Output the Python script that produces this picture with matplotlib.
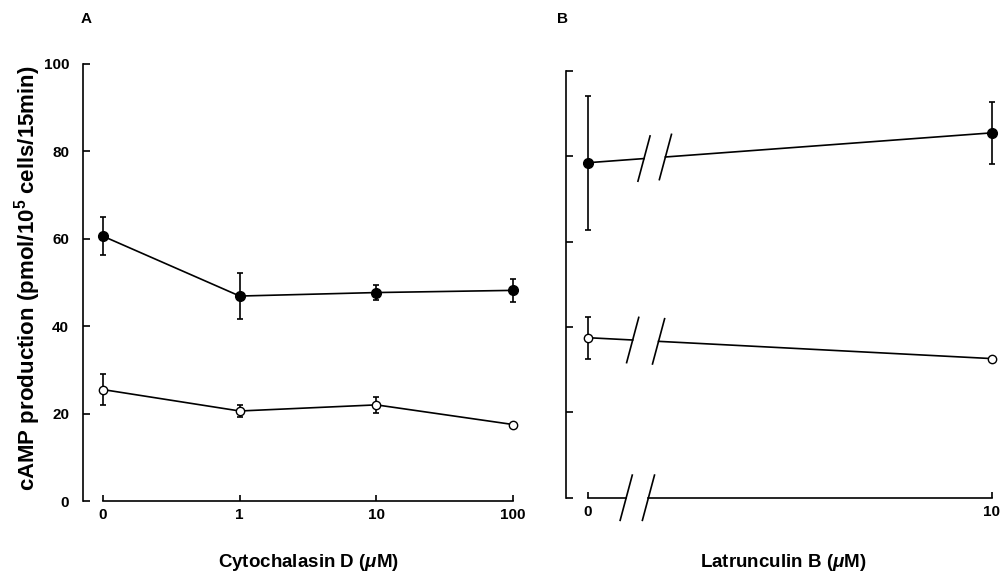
import matplotlib
matplotlib.use("Agg")
import matplotlib.pyplot as plt
import numpy as np

plt.rcParams["font.family"] = ["Liberation Sans", "DejaVu Sans"]
plt.rcParams["font.weight"] = "bold"
plt.rcParams["axes.labelweight"] = "bold"
plt.rcParams["mathtext.fontset"] = "custom"
plt.rcParams["mathtext.rm"] = "Liberation Sans:bold"
plt.rcParams["mathtext.it"] = "Liberation Sans:italic:bold"
plt.rcParams["mathtext.bf"] = "Liberation Sans:bold"

# panel A: cytochalasin D
cyto_labels = ["0", "1", "10", "100"]
cyto_ctrl = [60.6, 46.9, 47.7, 48.2]
cyto_ctrl_err = [4.3, 5.3, 1.7, 2.7]
cyto_basal = [25.5, 20.6, 22.0, 17.5]
cyto_basal_err = [3.6, 1.4, 1.9, 0.0]

# panel B: latrunculin B
latr_x = [0, 10]
latr_labels = ["0", "10"]
latr_ctrl = [78.5, 85.5]
latr_ctrl_err = [15.7, 7.3]
latr_basal = [37.5, 32.6]
latr_basal_err = [4.9, 0.0]

fig = plt.figure(figsize=(10, 5.77), dpi=100)
axA = fig.add_axes([0.083, 0.1241, 0.437, 0.7726])
axB = fig.add_axes([0.566, 0.130, 0.430, 0.7544])

lw = 1.2


def style(ax):
    for s in ["top", "right"]:
        ax.spines[s].set_visible(False)
    ax.spines["left"].set_linewidth(lw)
    ax.spines["bottom"].set_linewidth(lw)
    ax.spines["left"].set_bounds(0, 100)
    ax.set_ylim(-1, 101)
    ax.set_yticks([0, 20, 40, 60, 80, 100])
    ax.tick_params(direction="in", length=4, width=lw, labelsize=11, pad=5)
    ax.tick_params(axis="y", length=5, pad=10)
    ax.spines["bottom"].set_position(("data", 0))


# ---- A
xa = np.arange(len(cyto_labels))
style(axA)
axA.set_xlim(-0.146, 3.05)
axA.spines["bottom"].set_bounds(0, 3)
axA.set_xticks(xa)
axA.set_xticklabels(cyto_labels)
axA.errorbar(xa, cyto_ctrl, yerr=cyto_ctrl_err, fmt="-o", color="black",
             mfc="black", ms=7, lw=lw, capsize=2.5, capthick=lw, elinewidth=lw, clip_on=False)
axA.errorbar(xa, cyto_basal, yerr=cyto_basal_err, fmt="-o", color="black",
             mfc="white", ms=6, lw=lw, capsize=2.5, capthick=lw, elinewidth=lw)
axA.set_ylabel("cAMP production (pmol/10$^{5}$ cells/15min)", fontsize=16, va="center")
axA.yaxis.set_label_coords(-0.126, 0.51)
axA.set_xlabel(r"Cytochalasin D ($\mu$M)", fontsize=13.5, va="center")
axA.xaxis.set_label_coords(0.515, -0.127)

# ---- B
style(axB)
axB.set_yticklabels([])
axB.set_xlim(-0.54, 10.1)
axB.set_xticks(latr_x)
axB.set_xticklabels(latr_labels)
axB.spines["bottom"].set_visible(False)

# broken x axis
ax_brk = (0.95, 1.5)
axB.plot([0, ax_brk[0]], [0, 0], color="black", lw=lw, clip_on=False)
axB.plot([ax_brk[1], 10], [0, 0], color="black", lw=lw, clip_on=False)

sl_dx, sl_dy = 0.15, 5.3


def slash(ax, xc, yc):
    ax.plot([xc - sl_dx, xc + sl_dx], [yc - sl_dy, yc + sl_dy], color="black", lw=lw, clip_on=False)


slash(axB, ax_brk[0], 0)
slash(axB, ax_brk[1], 0)


def broken_series(ax, xs, ys, err, brk, filled, ms):
    x0, x1 = xs
    y0, y1 = ys
    yb = [y0 + (y1 - y0) * (b - x0) / (x1 - x0) for b in brk]
    ax.plot([x0, brk[0]], [y0, yb[0]], color="black", lw=lw)
    ax.plot([brk[1], x1], [yb[1], y1], color="black", lw=lw)
    slash(ax, brk[0], yb[0])
    slash(ax, brk[1], yb[1])
    ax.errorbar(xs, ys, yerr=err, fmt="o", color="black", mfc="black" if filled else "white",
                ms=ms, capsize=2.5, capthick=lw, elinewidth=lw, clip_on=False, zorder=5)


broken_series(axB, latr_x, latr_ctrl, latr_ctrl_err, (1.39, 1.92), True, 7)
broken_series(axB, latr_x, latr_basal, latr_basal_err, (1.11, 1.75), False, 6)
axB.set_xlabel(r"Latrunculin B ($\mu$M)", fontsize=13.5, va="center")
axB.xaxis.set_label_coords(0.505, -0.138)

fig.text(0.086, 0.967, "A", fontsize=11, fontweight="bold", ha="center", va="center")
fig.text(0.563, 0.967, "B", fontsize=11, fontweight="bold", ha="center", va="center")

fig.savefig("out.png", dpi=100)
